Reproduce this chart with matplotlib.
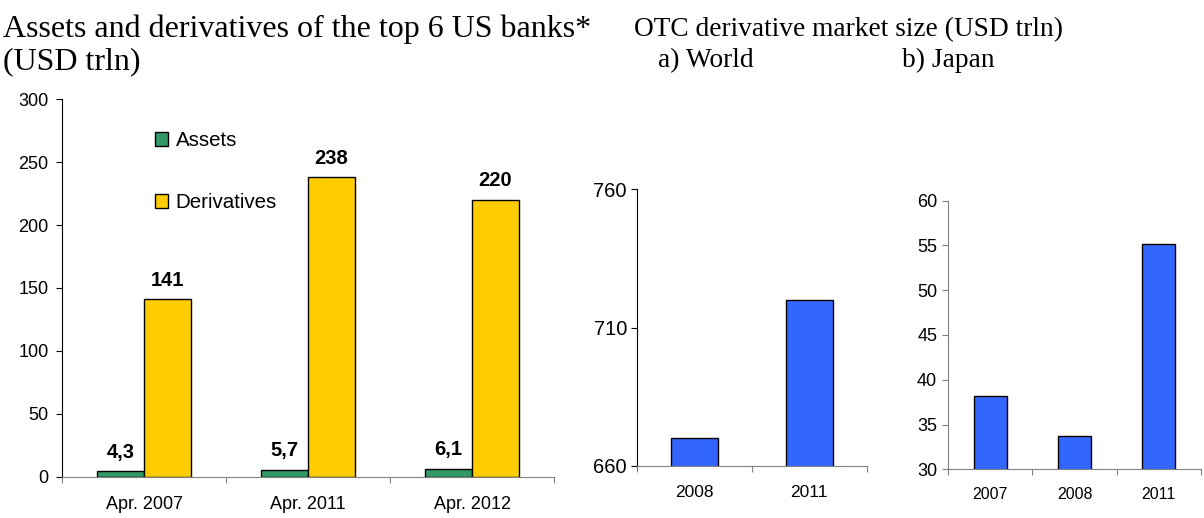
import numpy as np
import matplotlib
matplotlib.use('Agg')
import matplotlib.pyplot as plt

plt.rcParams['font.family'] = ['Liberation Sans', 'DejaVu Sans']

# left chart: top 6 US banks
bank_dates = ['Apr. 2007', 'Apr. 2011', 'Apr. 2012']
bank_assets = [4.3, 5.7, 6.1]
bank_derivatives = [141, 238, 220]

# OTC derivative market size
world_years = ['2008', '2011']
world_size = [670, 720]
japan_years = ['2007', '2008', '2011']
japan_size = [38.2, 33.7, 55.2]

W, H = 1204, 518
fig = plt.figure(figsize=(W / 100, H / 100), dpi=100)


def px_axes(x0, x1, ytop, ybot):
    return fig.add_axes([x0 / W, 1 - ybot / H, (x1 - x0) / W, (ybot - ytop) / H])


def style(ax, n, ycolor, xcolor, xfs, yfs, pad_x, pad_y):
    for s in ['top', 'right']:
        ax.spines[s].set_visible(False)
    ax.spines['left'].set_color(ycolor)
    ax.spines['bottom'].set_color(xcolor)
    ax.set_xlim(-0.5, n - 0.5)
    ax.set_xticks(np.arange(n + 1) - 0.5)
    ax.set_xticklabels([])
    ax.tick_params(axis='x', which='major', length=4, color=xcolor, direction='out')
    ax.tick_params(axis='x', which='minor', length=0, pad=pad_x, labelsize=xfs)
    ax.tick_params(axis='y', length=4, color=ycolor, direction='out', pad=pad_y, labelsize=yfs)


# ---- left chart ----
ax1 = px_axes(62.3, 554, 99.3, 476.7)
x = np.arange(len(bank_dates))
w = 0.286
b1 = ax1.bar(x - w / 2, bank_assets, w, color='#339966', edgecolor='black', linewidth=1, label='Assets')
b2 = ax1.bar(x + w / 2, bank_derivatives, w, color='#FFCC00', edgecolor='black', linewidth=1, label='Derivatives')
ax1.set_ylim(0, 300)
ax1.set_yticks(range(0, 301, 50))
style(ax1, 3, 'black', '#808080', 13, 13, 14, 6)
ax1.set_xticks(x, bank_dates, minor=True)
ax1.bar_label(b1, labels=[f'{v:.1f}'.replace('.', ',') for v in bank_assets],
              padding=7, fontsize=14.5, fontweight='bold')
ax1.bar_label(b2, labels=[str(v) for v in bank_derivatives],
              padding=7, fontsize=14.5, fontweight='bold')
ax1.legend(loc='upper left', bbox_to_anchor=(155 / W, 1 - 131 / H), bbox_transform=fig.transFigure,
           frameon=False, fontsize=14.8, handlelength=0.65, handleheight=0.65,
           handletextpad=0.35, labelspacing=2.1, borderpad=0, borderaxespad=0)

# ---- middle chart: world ----
ax2 = px_axes(636.7, 866.7, 189.3, 465.7)
b3 = ax2.bar(np.arange(len(world_years)), world_size, 0.41, color='#3366FF', edgecolor='black', linewidth=1)
ax2.set_ylim(660, 760)
ax2.set_yticks([660, 710, 760])
style(ax2, 2, 'black', '#808080', 12.5, 14.5, 14, 3)
ax2.set_xticks(np.arange(len(world_years)), world_years, minor=True)

# ---- right chart: Japan ----
ax3 = px_axes(948.3, 1200.7, 200.7, 469.3)
b4 = ax3.bar(np.arange(len(japan_years)), japan_size, 0.40, color='#3366FF', edgecolor='black', linewidth=1)
ax3.set_ylim(30, 60)
ax3.set_yticks(range(30, 61, 5))
style(ax3, 3, '#808080', '#808080', 11.5, 13, 13, 4)
ax3.set_xticks(np.arange(len(japan_years)), japan_years, minor=True)

# ---- titles ----
serif = dict(family=['Liberation Serif', 'DejaVu Serif'], va='baseline', ha='left')
fig.text(3 / W, 1 - 37 / H, 'Assets and derivatives of the top 6 US banks*', fontsize=23, **serif)
fig.text(3 / W, 1 - 69 / H, '(USD trln)', fontsize=23, **serif)
fig.text(634 / W, 1 - 36 / H, 'OTC derivative market size (USD trln)', fontsize=19.7, **serif)
fig.text(658 / W, 1 - 67 / H, 'a) World', fontsize=19.7, **serif)
fig.text(902 / W, 1 - 67 / H, 'b) Japan', fontsize=19.7, **serif)

fig.savefig('out.png', dpi=100)
